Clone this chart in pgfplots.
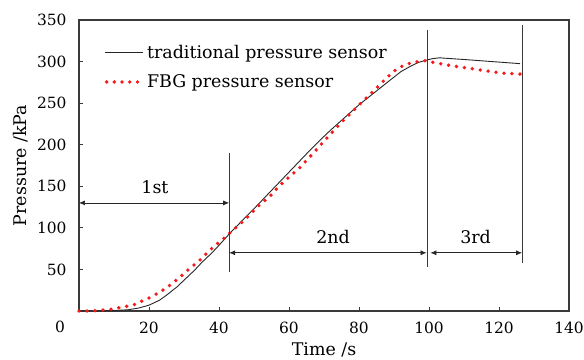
\documentclass[border=0pt]{standalone}
\usepackage{fontspec}
\setmainfont{DejaVu Serif}
\usepackage{pgfplots}
\pgfplotsset{compat=1.18}
\usetikzlibrary{arrows.meta}
\definecolor{axgray}{HTML}{3A3A3A}
\definecolor{fbgred}{HTML}{F51A1A}
\newcommand{\chartfont}{\fontsize{17.5}{21}\selectfont}
\newcommand{\tickfont}{\fontsize{15.5}{19}\selectfont}
\begin{document}
\begin{tikzpicture}
\begin{axis}[
  scale only axis,
  width=490bp, height=291bp,
  xmin=0, xmax=140, ymin=0, ymax=350,
  xtick={20,40,60,80,100,120,140},
  ytick={50,100,150,200,250,300,350},
  tick pos=left, tick align=inside,
  major tick length=4bp,
  axis line style={axgray, line width=1.1pt},
  tick style={axgray, line width=0.8pt},
  /pgf/number format/assume math mode=true,
  ticklabel style={font=\tickfont, text=black},
  label style={font=\chartfont, text=black},
  xticklabel style={yshift=-8bp},
  yticklabel style={xshift=-9bp},
  xlabel={Time /s},
  ylabel={Pressure /kPa},
  xlabel style={yshift=-2bp},
  ylabel style={yshift=2bp},
  legend style={at={(axis description cs:0.05,0.925)}, anchor=north west,
    draw=none, fill=none, font=\chartfont,
    row sep=11bp, inner sep=1bp},
  legend cell align=left,
  clip=false,
]
\addplot[black!85, line width=0.9pt,
  legend image code/.code={\draw[black!85, line width=0.9pt] (0bp,0bp) -- (38bp,0bp);}]
coordinates {
(0,0) (5,0) (10,0.5) (14,1.5) (17,3.5) (20,7) (23,13) (25,19) (28,29) (30,37)
(33,49) (35,58) (38,70) (40,79) (43,93) (46,106) (50,123) (55,145) (60,167)
(65,189) (69,206) (72,218) (76,233) (80,248) (83,258) (86,268) (89,278)
(92,288) (95,295) (97,299) (99.5,302) (101,303.5) (103,304.5) (110,302.5)
(118,300) (126,297.5)
};
\addlegendentry{traditional pressure sensor}
\addplot[fbgred, line width=3.8bp, line cap=round, dash pattern=on 0bp off 8bp,
  legend image code/.code={\draw[fbgred, line width=3.8bp, line cap=round, dash pattern=on 0bp off 7.7bp] (1.5bp,0bp) -- (38bp,0bp);}]
coordinates {
(0,0) (3,0) (6,0.8) (9,2) (11,3.5) (14,6) (16,8) (18,12) (20.5,16.5)
(22.5,21.5) (24.7,27) (26.7,33.5) (28.7,40) (30.5,47) (32.5,54) (34.5,61)
(36.3,68.6) (38,75.5) (40,82.6) (42,89.5) (43.8,96.6) (45.6,103) (47.4,110)
(49.2,117.5) (51,125.5) (53,132.5) (54.9,139.5) (56.5,147) (58.2,154.4)
(60,161) (63,172) (66.9,189.7) (71.7,212) (75,227) (80.3,249) (85,268)
(88,281) (90.8,291) (93,296) (96,299.5) (98.9,301) (101.2,299) (106.5,295)
(111.2,292) (116,289) (121.3,286) (126,285)
};
\addlegendentry{FBG pressure sensor}
% stage boundary lines
\addplot[axgray, line width=0.9pt, forget plot] coordinates {(42.9,47) (42.9,190)};
\addplot[axgray, line width=0.9pt, forget plot] coordinates {(99.6,53) (99.6,338)};
\addplot[axgray, line width=0.9pt, forget plot] coordinates {(126.6,58) (126.6,344)};
% stage arrows
\addplot[black!85, line width=0.7pt, {Latex[length=6bp,width=5bp]}-{Latex[length=6bp,width=5bp]}, forget plot]
  coordinates {(0,130) (42.9,130)};
\addplot[black!85, line width=0.7pt, {Latex[length=6bp,width=5bp]}-{Latex[length=6bp,width=5bp]}, forget plot]
  coordinates {(42.9,70) (99.3,70)};
\addplot[black!85, line width=0.7pt, {Latex[length=6bp,width=5bp]}-{Latex[length=6bp,width=5bp]}, forget plot]
  coordinates {(100.4,70) (126.6,70)};
\node[font=\chartfont, text=black] at (axis cs:21.7,149) {1st};
\node[font=\chartfont, text=black] at (axis cs:72.6,89) {2nd};
\node[font=\chartfont, text=black] at (axis cs:113.3,89) {3rd};
\node[font=\tickfont, text=black] at (axis cs:0,0) [xshift=-19bp, yshift=-16bp] {0};
\end{axis}
\pgfresetboundingbox
\path[use as bounding box] ([shift={(-79bp,-49bp)}]current axis.south west) rectangle ([shift={(15bp,20bp)}]current axis.north east);
\end{tikzpicture}
\end{document}
